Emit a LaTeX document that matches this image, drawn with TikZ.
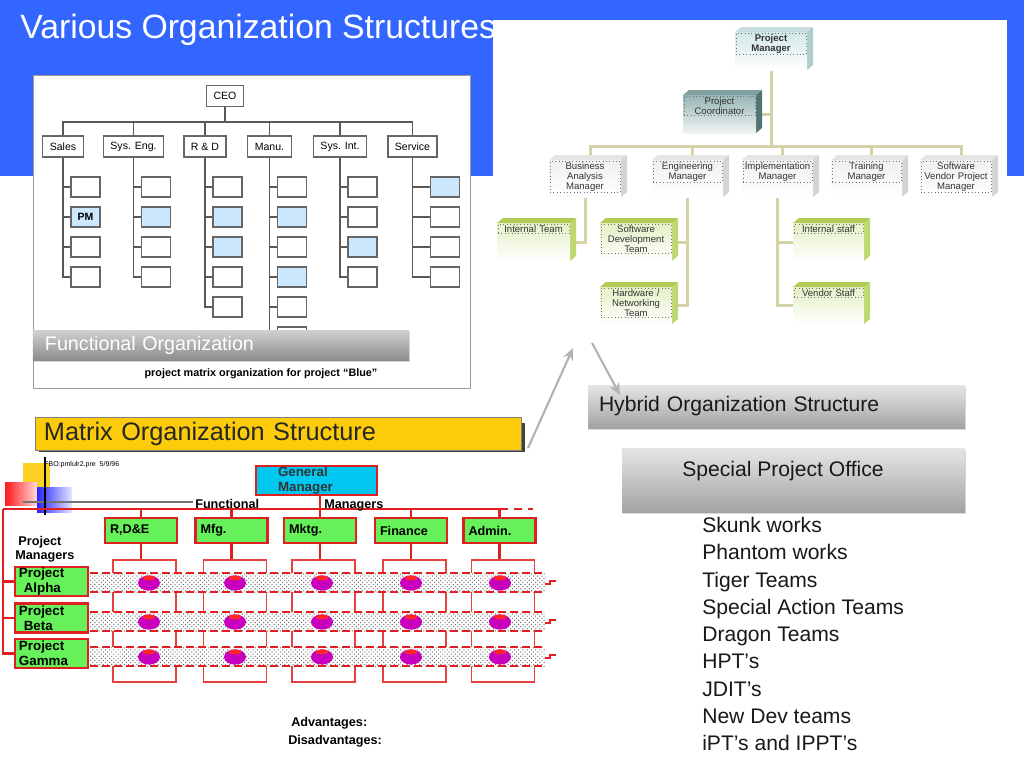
\documentclass[tikz,border=0pt]{standalone}
\usepackage{fontspec}
\setmainfont{Liberation Sans}
\usepackage{tikz}
\usetikzlibrary{arrows.meta,positioning,patterns,shadows}
\usepackage{xcolor}

\definecolor{slideblue}{RGB}{51,102,255}
\definecolor{fblue}{RGB}{204,232,255}
\definecolor{hline}{RGB}{214,210,168}
\definecolor{mgreen}{RGB}{102,240,90}
\definecolor{mred}{RGB}{224,32,32}
\definecolor{mcyan}{RGB}{0,200,240}
\definecolor{myellow}{RGB}{252,204,10}
\definecolor{mblob}{RGB}{200,0,190}

\pgfdeclarelayer{back}
\pgfdeclarelayer{bg}
\pgfsetlayers{back,bg,main}

\tikzset{
  fbox/.style={draw=black!60,line width=0.3mm,fill=white,inner xsep=1.75mm,inner ysep=0mm,minimum height=5.25mm,font=\fontsize{7.5}{9}\selectfont},
  fcell/.style={draw=black!60,line width=0.3mm,minimum width=7.25mm,minimum height=5mm,inner sep=0},
  fline/.style={draw=black!65,line width=0.3mm},
  fbanner/.style={top color=black!18,bottom color=black!45,minimum width=94mm,minimum height=7.5mm,text width=88mm,inner xsep=3mm,align=left,text=white,font=\fontsize{14}{16}\selectfont,drop shadow={shadow xshift=0.3mm,shadow yshift=-0.6mm,opacity=0.3}},
  hconn/.style={draw=hline,line width=0.75mm},
  hlbl/.style={draw=black!55,dotted,align=center,inner sep=0.25mm,font=\fontsize{6.8}{7.2}\selectfont,text=black!80},
  pmface/.style={top color={rgb,255:red,210;green,232;blue,232},bottom color=white,inner sep=0,outer sep=0},
  pmside/.style={fill={rgb,255:red,175;green,205;blue,205}},
  pmtop/.style={fill={rgb,255:red,200;green,222;blue,222}},
  coface/.style={top color={rgb,255:red,150;green,180;blue,180},bottom color={rgb,255:red,240;green,244;blue,244},inner sep=0,outer sep=0},
  coside/.style={fill={rgb,255:red,80;green,115;blue,115}},
  cotop/.style={fill={rgb,255:red,130;green,160;blue,160}},
  mgface/.style={top color=black!6,bottom color=white,inner sep=0,outer sep=0},
  mgside/.style={fill=black!17},
  mgtop/.style={fill=black!10},
  tmface/.style={top color={rgb,255:red,228;green,240;blue,196},bottom color=white,inner sep=0,outer sep=0},
  tmside/.style={fill={rgb,255:red,190;green,215;blue,110}},
  tmtop/.style={fill={rgb,255:red,175;green,205;blue,85}},
  mline/.style={draw=mred,line width=0.55mm},
  mfun/.style={draw=mred,line width=0.55mm,fill=mgreen,minimum width=18mm,minimum height=6.25mm,text width=15.5mm,inner xsep=1.25mm,inner ysep=0,align=left,font=\bfseries\fontsize{9}{10}\selectfont},
  mproj/.style={draw=mred,line width=0.55mm,fill=mgreen,minimum width=18.25mm,minimum height=7.25mm,text width=16.25mm,inner xsep=1mm,inner ysep=0,align=left,font=\bfseries\fontsize{9.5}{10.7}\selectfont},
  mframe/.style={draw=mred!85,line width=0.3mm,minimum width=15.75mm,minimum height=30.5mm,inner sep=0},
  mtext/.style={font=\bfseries\fontsize{9}{10.2}\selectfont,inner sep=0},
  graybox/.style={top color=black!10,bottom color=black!36,inner sep=0,drop shadow={shadow xshift=0.3mm,shadow yshift=-0.6mm,opacity=0.3}},
  harrow/.style={draw=black!30,line width=1.5pt,-{Stealth[length=3mm,width=2.6mm]}}
}

\newcommand{\hcube}[7]{%
  \pgfmathsetlengthmacro{\hcw}{#4*0.25mm}%
  \pgfmathsetlengthmacro{\hch}{#5*0.25mm}%
  \pgfmathsetlengthmacro{\htw}{(#4-4)*0.25mm}%
  \fill[#7side] (#2+#4,#3) -- ++(6,-5) -- ++(0,#5) -- ++(-6,5) -- cycle;
  \fill[#7top] (#2,#3) -- ++(6,-5) -- ++(#4,0) -- ++(-6,5) -- cycle;
  \node[#7face,minimum width=\hcw,minimum height=\hch] (#1) at (#2+#4/2,#3+#5/2) {};
  \node[hlbl,text width=\htw,below=0.25mm of #1.north] (#1t) {#6};
}

\begin{document}
\begin{tikzpicture}[x=0.25mm,y=-0.25mm,line cap=butt]
\useasboundingbox (0,0) rectangle (1024,768);
\begin{pgfonlayer}{back}
\fill[white] (0,0) rectangle (1024,768);
\fill[slideblue] (0,0) rectangle (1024,176);
\node[anchor=base west,text=white,font=\fontsize{24}{28}\selectfont,inner sep=0] (title) at (20,38) {Various Organization Structures};
\fill[white] (493,20) rectangle (1007,340);
\fill[white] (33,75) rectangle (470,388);
\draw[black!40] (33,75) rectangle (470,388);
\end{pgfonlayer}

% functional organization
\node[fbox] (ceo) at (225,96) {CEO};
\coordinate (fbus) at (225,122);
\draw[fline] (ceo.south) -- (fbus);
\foreach \n/\lab/\x in {sales/Sales/63,syseng/Sys. Eng./133.5,rd/R \& D/205,manu/Manu./269.5,sysint/Sys. Int./340,service/Service/412.5}{
  \node[fbox] (\n) at (\x,146.5) {\lab};
  \draw[fline] (fbus) -| (\n.north);
}
\foreach \r/\f in {1/white,2/fblue,3/white,4/white}{
  \node[fcell,fill=\f] (sales\r) at (85.5,157+30*\r) {};
  \draw[fline] (sales.south) |- (sales\r.west);
}
\foreach \r/\f in {1/white,2/fblue,3/white,4/white}{
  \node[fcell,fill=\f] (syseng\r) at (156,157+30*\r) {};
  \draw[fline] (syseng.south) |- (syseng\r.west);
}
\foreach \r/\f in {1/white,2/fblue,3/fblue,4/white,5/white}{
  \node[fcell,fill=\f] (rd\r) at (227.5,157+30*\r) {};
  \draw[fline] (rd.south) |- (rd\r.west);
}
\foreach \r/\f in {1/white,2/fblue,3/white,4/fblue,5/white,6/white}{
  \node[fcell,fill=\f] (manu\r) at (292,157+30*\r) {};
  \draw[fline] (manu.south) |- (manu\r.west);
}
\foreach \r/\f in {1/white,2/white,3/fblue,4/white}{
  \node[fcell,fill=\f] (sysint\r) at (362.5,157+30*\r) {};
  \draw[fline] (sysint.south) |- (sysint\r.west);
}
\foreach \r/\f in {1/fblue,2/white,3/white,4/white}{
  \node[fcell,fill=\f] (service\r) at (445,157+30*\r) {};
  \draw[fline] (service.south) |- (service\r.west);
}
\node[font=\bfseries\fontsize{7.5}{9}\selectfont] (pmtxt) at (sales2) {PM};
\node[fbanner] (fban) at (221,345) {Functional Organization};
\node[font=\bfseries\fontsize{7.7}{9}\selectfont] (fcap) at (261,374) {project matrix organization for project “Blue”};

% hybrid organization
\hcube{pm}{735}{32}{72}{38}{\textbf{Project}\\\textbf{Manager}}{pm}
\hcube{coord}{683}{95}{73}{38}{Project\\Coordinator}{co}
\hcube{ba}{549}{160}{72}{37}{Business\\Analysis\\Manager}{mg}
\hcube{eng}{652}{160}{71}{37}{Engineering\\Manager}{mg}
\hcube{impl}{742}{160}{71}{37}{Implementation\\Manager}{mg}
\hcube{trn}{831}{160}{71}{37}{Training\\Manager}{mg}
\hcube{svpm}{920}{160}{72}{37}{Software\\Vendor Project\\Manager}{mg}
\hcube{intt}{497}{223}{73}{38}{Internal Team}{tm}
\hcube{sdt}{600}{223}{72}{38}{Software\\Development\\Team}{tm}
\hcube{hnt}{600}{287}{72}{37}{Hardware /\\Networking\\Team}{tm}
\hcube{ints}{793}{223}{71}{38}{Internal staff}{tm}
\hcube{vs}{793}{287}{71}{37}{Vendor Staff}{tm}
\begin{pgfonlayer}{bg}
\coordinate (hbus) at (771,146);
\draw[hconn] (pm.south) -- (hbus);
\draw[hconn] (coord.east) -- (coord.east -| hbus);
\foreach \n in {ba,eng,impl,trn,svpm}
  \draw[hconn] (hbus) -| ([xshift=1.25mm]\n.north);
\draw[hconn] (ba.south) |- (intt.east);
\draw[hconn] (eng.south) |- (sdt.east);
\draw[hconn] (eng.south) |- (hnt.east);
\draw[hconn] (impl.south) |- (ints.west);
\draw[hconn] (impl.south) |- (vs.west);
\end{pgfonlayer}

% matrix organization
\fill[black!75] (39,423) rectangle (525,452);
\node[fill=myellow,draw=black!50,minimum width=121.5mm,minimum height=7.25mm,text width=117mm,inner xsep=2.25mm,align=left,text=black!85,font=\fontsize{18}{20}\selectfont] (mtitle) at (278,433.5) {Matrix Organization Structure};
\fill[myellow!90] (23,463) rectangle (50,490);
\shade[left color=red!90,right color=red!15] (5,482) rectangle (37,505);
\shade[left color=blue!85,right color=blue!10] (37,487) rectangle (72,512);
\draw[black!55,line width=0.4mm] (23,502) -- (193,502);
\draw[black,line width=0.4mm] (45,457) -- (45,515);
\node[anchor=west,inner sep=0,font=\fontsize{5}{6}\selectfont] (fbo) at (44,465) {FBO:pmlulr2.pre\ \ 5/9/96};
\node[draw=mred,line width=0.55mm,fill=mcyan,minimum width=30.25mm,minimum height=7.25mm,text width=19.25mm,inner xsep=5.5mm,inner ysep=0,align=left,text=black!80,font=\bfseries\fontsize{9.5}{10.7}\selectfont] (gm) at (316.5,480.5) {General\\Manager};
\coordinate (mbus) at (3,509);
\foreach \n/\lab/\x in {rde/{R,D\&E}/141,mfg/Mfg./231.5,mktg/Mktg./320,fin/Finance/411,adm/Admin./499.5}{
  \node[mframe] (\n-f) at (\x+3.5,621) {};
  \node[mfun] (\n) at (\x,530.5) {\lab};
  \draw[mline] (\n.north |- mbus) -- (\n.north);
  \draw[mline] (\n.south) -- (\n.south |- \n-f.north);
}
\draw[mline] (mbus) -- (adm.north |- mbus);
\draw[mline,dash pattern=on 2mm off 1.5mm] (adm.north |- mbus) -- ++(33,0);
\draw[mline] (gm.south -| mktg.north) -- (mktg.north);
\node[mproj] (alpha) at (51.5,581.5) {Project\\\hspace*{1.2mm}Alpha};
\node[mproj] (beta) at (51.5,618) {Project\\\hspace*{1.2mm}Beta};
\node[mproj] (gamma) at (51.5,653.5) {Project\\Gamma};
\draw[mline] (mbus) |- (gamma.west);
\draw[mline] (mbus |- alpha.west) -- (alpha.west);
\draw[mline] (mbus |- beta.west) -- (beta.west);
\foreach \y in {573,612,647}{
  \fill[white] (90,\y) rectangle (545,\y+19);
  \fill[pattern=crosshatch dots,pattern color=black!55] (90,\y) rectangle (545,\y+19);
  \draw[mred,line width=0.5mm,dash pattern=on 2mm off 1mm] (90,\y) -- (545,\y) (90,\y+19) -- (545,\y+19);
  \draw[mred,line width=0.4mm] (545,\y+11) -- (550,\y+11) -- (550,\y+8) -- (556,\y+8);
  \foreach \x in {149,235,322,411,500}{
    \fill[mblob] (\x,\y+10) ellipse (2.75mm and 1.9mm);
    \fill[red!85] (\x,\y+5) ellipse (1.6mm and 0.6mm);
  }
}
\node[mtext,anchor=base west] (mfunc) at (195,508) {Functional};
\node[mtext,anchor=base west] (mmgr) at (324,508) {Managers};
\node[mtext,anchor=north west,align=left,font=\bfseries\fontsize{9}{10}\selectfont] (pmgrs) at (15,536) {\hspace*{0.8mm}Project\\Managers};
\node[mtext,anchor=base west] (adv) at (291,726) {Advantages:};
\node[mtext,anchor=base west] (dis) at (288,744) {Disadvantages:};

% labels on the right
\coordinate (arrA) at (528,448);
\coordinate (arrB) at (573,348);
\coordinate (arrC) at (592,343);
\coordinate (arrD) at (620,395);
\node[graybox,minimum width=94.25mm,minimum height=10.75mm,text width=88.75mm,inner xsep=2.75mm,align=left,text=black!90,font=\fontsize{15}{18}\selectfont] (hyb) at (776.5,406.5) {Hybrid Organization Structure};
\node[graybox,minimum width=85.75mm,minimum height=16mm] (spo) at (793.5,480) {};
\node[inner sep=0,text=black!90,font=\fontsize{15}{18}\selectfont] (spotxt) at (783,471) {Special Project Office};
\draw[harrow] (arrA) -- (arrB);
\draw[harrow] (arrC) -- (arrD);
\node[anchor=north west,inner sep=0,align=left,text=black!90,font=\fontsize{15}{19.4}\selectfont] (teams) at (702,517) {Skunk works\\Phantom works\\Tiger Teams\\Special Action Teams\\Dragon Teams\\HPT’s\\JDIT’s\\New Dev teams\\iPT’s and IPPT’s};
\end{tikzpicture}
\end{document}
